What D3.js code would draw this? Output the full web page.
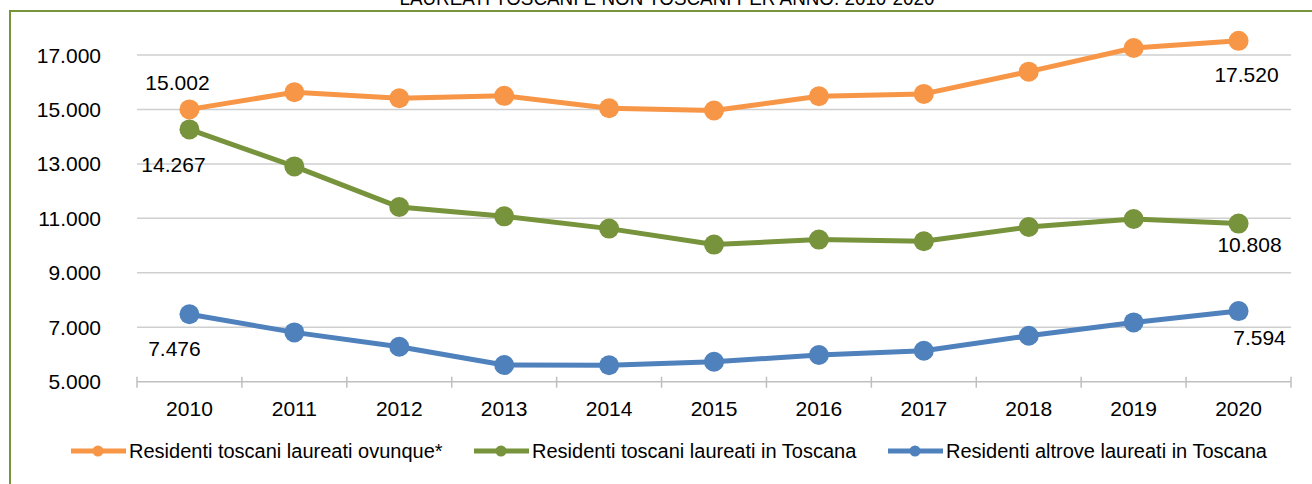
<!DOCTYPE html>
<html>
<head>
<meta charset="utf-8">
<script src="https://cdn.jsdelivr.net/npm/d3@7"></script>
<style>
  html, body { margin: 0; padding: 0; background: #fff; }
  svg { display: block; font-family: "Liberation Sans", Arial, sans-serif; }
</style>
</head>
<body>
<div id="chart"></div>
<script>
// Laureati toscani e non toscani per anno

const years = ["2010", "2011", "2012", "2013", "2014", "2015", "2016", "2017", "2018", "2019", "2020"];

const seriesNames = [
    "Residenti toscani laureati ovunque*",
    "Residenti toscani laureati in Toscana",
    "Residenti altrove laureati in Toscana"
];

const ovunque = [15002, 15630, 15411, 15499, 15044, 14960, 15484, 15572, 16389, 17258, 17520];
const inToscana = [14267, 12907, 11415, 11074, 10623, 10037, 10220, 10158, 10682, 10975, 10808];
const altrove = [7476, 6811, 6283, 5612, 5605, 5733, 5979, 6136, 6686, 7177, 7594];

const yTicks = [5000, 7000, 9000, 11000, 13000, 15000, 17000];

const colors = ["#F79646", "#77933C", "#4F81BD"];

const width = 1312;
const height = 484;

const margin = { top: 55, right: 21, bottom: 102.3, left: 137 };

const series = [ovunque, inToscana, altrove].map((values, i) => ({
    name: seriesNames[i],
    color: colors[i],
    values: values.map((v, j) => ({ year: years[j], value: v }))
}));

// label offsets for first / last point (dx, dy from marker)
const labelOffsets = [
    [[-12, -27], [8, 34]],
    [[-16, 35], [11, 21]],
    [[-15, 34], [21, 26]]
];

const fmt = d3.formatLocale({ decimal: ",", thousands: ".", grouping: [3], currency: ["€", ""] }).format(",d");

const svg = d3.select("#chart")
    .append("svg")
    .attr("width", width)
    .attr("height", height);

// frame
svg.append("rect")
    .attr("x", 10)
    .attr("y", 11)
    .attr("width", width + 20)
    .attr("height", height + 20)
    .attr("fill", "none")
    .attr("stroke", "#77933C")
    .attr("stroke-width", 2);

// title (cut at the top like the original)
svg.append("text")
    .attr("x", 667)
    .attr("y", 5)
    .attr("text-anchor", "middle")
    .attr("textLength", 535)
    .attr("lengthAdjust", "spacingAndGlyphs")
    .style("font-size", "21px")
    .style("fill", "#000")
    .text("LAUREATI TOSCANI E NON TOSCANI PER ANNO. 2010-2020");

const x = d3.scaleBand()
    .domain(years)
    .range([margin.left, width - margin.right]);

const y = d3.scaleLinear()
    .domain([5000, 17000])
    .range([height - margin.bottom, margin.top]);

const cx = d => x(d.year) + x.bandwidth() / 2;

// gridlines
svg.append("g")
    .selectAll("line")
    .data(yTicks.slice(1))
    .enter()
    .append("line")
    .attr("x1", margin.left)
    .attr("x2", width - margin.right)
    .attr("y1", d => y(d))
    .attr("y2", d => y(d))
    .attr("stroke", "#CFCFCF")
    .attr("stroke-width", 1.5);

// y axis labels
svg.append("g")
    .selectAll("text")
    .data(yTicks)
    .enter()
    .append("text")
    .attr("x", 101)
    .attr("y", d => y(d))
    .attr("dy", "0.36em")
    .attr("text-anchor", "end")
    .style("font-size", "21px")
    .style("fill", "#000")
    .text(d => fmt(d));

// x axis
const xAxis = svg.append("g");
xAxis.append("line")
    .attr("x1", margin.left)
    .attr("x2", width - margin.right)
    .attr("y1", y(5000))
    .attr("y2", y(5000))
    .attr("stroke", "#BFBFBF")
    .attr("stroke-width", 1.5);

xAxis.selectAll(".tick")
    .data(years.concat(["end"]))
    .enter()
    .append("line")
    .attr("class", "tick")
    .attr("x1", (d, i) => margin.left + i * x.step())
    .attr("x2", (d, i) => margin.left + i * x.step())
    .attr("y1", y(5000) - 5)
    .attr("y2", y(5000) + 6)
    .attr("stroke", "#BFBFBF")
    .attr("stroke-width", 1.5);

xAxis.selectAll(".xlabel")
    .data(years)
    .enter()
    .append("text")
    .attr("class", "xlabel")
    .attr("x", d => x(d) + x.bandwidth() / 2)
    .attr("y", 408)
    .attr("dy", "0.36em")
    .attr("text-anchor", "middle")
    .style("font-size", "21px")
    .style("fill", "#000")
    .text(d => d);

// lines and markers
const line = d3.line()
    .x(cx)
    .y(d => y(d.value));

series.forEach((s, i) => {
    svg.append("path")
        .datum(s.values)
        .attr("d", line)
        .attr("fill", "none")
        .attr("stroke", s.color)
        .attr("stroke-width", 5)
        .attr("stroke-linejoin", "round");

    svg.append("g")
        .selectAll("circle")
        .data(s.values)
        .enter()
        .append("circle")
        .attr("cx", cx)
        .attr("cy", d => y(d.value))
        .attr("r", 10)
        .attr("fill", s.color);

    // data labels on first and last point
    const ends = [s.values[0], s.values[s.values.length - 1]];
    svg.append("g")
        .selectAll("text")
        .data(ends)
        .enter()
        .append("text")
        .attr("x", (d, k) => cx(d) + labelOffsets[i][k][0])
        .attr("y", (d, k) => y(d.value) + labelOffsets[i][k][1])
        .attr("dy", "0.36em")
        .attr("text-anchor", "middle")
        .style("font-size", "21px")
        .style("fill", "#000")
        .text(d => fmt(d.value));
});

// legend
const legendX = [98, 501, 915];
const legendY = 451;

const legend = svg.append("g")
    .selectAll("g")
    .data(series)
    .enter()
    .append("g")
    .attr("transform", (d, i) => "translate(" + legendX[i] + "," + legendY + ")");

legend.append("line")
    .attr("x1", -27)
    .attr("x2", 28)
    .attr("stroke", d => d.color)
    .attr("stroke-width", 5);

legend.append("circle")
    .attr("r", 5.5)
    .attr("fill", d => d.color);

legend.append("text")
    .attr("x", 31)
    .attr("dy", "0.36em")
    .style("font-size", "20px")
    .style("fill", "#000")
    .text(d => d.name);
</script>
</body>
</html>
